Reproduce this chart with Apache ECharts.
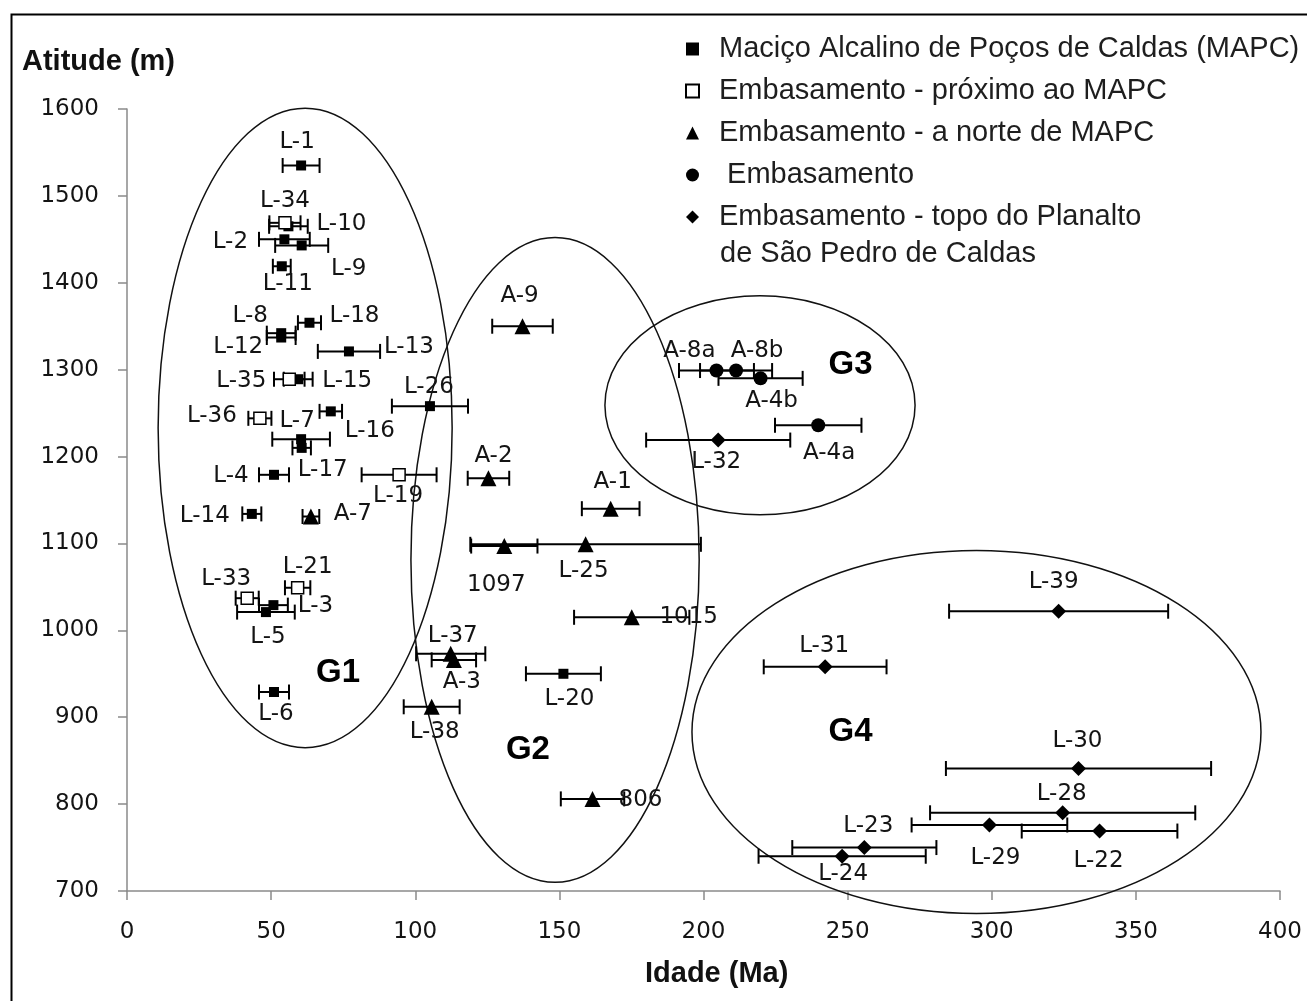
<!DOCTYPE html>
<html>
<head>
<meta charset="utf-8">
<script src="https://cdn.jsdelivr.net/npm/echarts@6/dist/echarts.min.js"></script>
<style>html,body{margin:0;padding:0;background:#fff}#chart{width:1307px;height:1001px}</style>
</head>
<body>
<div id="chart"></div>
<script>
// ---- DATA: [sample, age (Ma), altitude (m), age error (Ma)] ----
const mapcSamples = [
  ['L-1', 60.4, 1535, 6.4],
  ['L-10', 56.0, 1465, 6.7],
  ['L-2', 54.6, 1450, 8.8],
  ['L-9', 60.6, 1443, 9.2],
  ['L-11', 53.7, 1419, 3.1],
  ['L-18', 63.3, 1354, 4.0],
  ['L-8', 53.5, 1342, 5.0],
  ['L-12', 53.5, 1337, 5.0],
  ['L-13', 77.0, 1321, 10.8],
  ['L-15', 59.4, 1289, 5.0],
  ['L-26', 105.1, 1258, 13.2],
  ['L-16', 70.7, 1252, 3.9],
  ['L-7', 60.4, 1220, 10.0],
  ['L-17', 60.6, 1210, 3.2],
  ['L-4', 51.0, 1179, 5.2],
  ['L-14', 43.3, 1134, 3.3],
  ['L-3', 50.8, 1029, 5.0],
  ['L-5', 48.2, 1021, 10.0],
  ['L-6', 51.0, 929, 5.2],
  ['L-20', 151.4, 950, 13.0]
];
const nearMapcSamples = [
  ['L-34', 54.8, 1469, 5.4],
  ['L-35', 56.3, 1289, 5.3],
  ['L-36', 46.1, 1244, 4.0],
  ['L-19', 94.4, 1179, 13.0],
  ['L-21', 59.2, 1049, 4.4],
  ['L-33', 41.7, 1037, 4.0]
];
const northSamples = [
  ['A-9', 137.2, 1350, 10.5],
  ['A-2', 125.4, 1175, 7.2],
  ['A-1', 167.8, 1140, 10.0],
  ['A-7', 63.8, 1131, 2.9],
  ['1097', 130.9, 1097, 11.5],
  ['L-25', 159.1, 1099, 40.0],
  ['1015', 175.1, 1015, 20.0],
  ['L-37', 112.3, 973, 12.0],
  ['A-3', 113.4, 966, 7.7],
  ['L-38', 105.7, 912, 9.7],
  ['806', 161.5, 806, 11.0]
];
const basementSamples = [
  ['A-8a', 204.5, 1299, 13.0],
  ['A-8b', 211.3, 1299, 12.5],
  ['A-4b', 219.8, 1290, 14.6],
  ['A-4a', 239.8, 1236, 15.0]
];
const plateauSamples = [
  ['L-32', 205.1, 1219, 25.0],
  ['L-39', 323.2, 1022, 38.0],
  ['L-31', 242.2, 958, 21.3],
  ['L-30', 330.1, 841, 46.0],
  ['L-28', 324.6, 790, 46.0],
  ['L-29', 299.2, 776, 27.0],
  ['L-22', 337.4, 769, 27.0],
  ['L-23', 255.8, 750, 25.0],
  ['L-24', 248.1, 740, 29.0]
];
// groups: [name, centre age, centre altitude, half-width (Ma), half-height (m)]
const groupEllipses = [
  ['G1', 61.8, 1233, 51, 368],
  ['G2', 148.5, 1081, 50, 371],
  ['G3', 219.6, 1259, 53.8, 126],
  ['G4', 294.7, 883, 98.7, 209]
];
// group label anchors: [name, age, altitude]
const groupLabels = [
  ['G1', 73.2, 951],
  ['G2', 139.1, 862],
  ['G3', 251.0, 1305],
  ['G4', 251.0, 883]
];
const seriesNames = [
  'Maciço Alcalino de Poços de Caldas (MAPC)',
  'Embasamento - próximo ao MAPC',
  'Embasamento - a norte de MAPC',
  'Embasamento',
  'Embasamento - topo do Planalto de São Pedro de Caldas'
];
const xTicks = {min: 0, max: 400, step: 50};
const yTicks = {min: 700, max: 1600, step: 100};

// ---- label placement (pixel offsets from marker) ----
const labelOffset = {
  'L-1':[-4,-23],'L-34':[0,-22],'L-10':[53,-2],'L-2':[-54,3],'L-9':[47,24],'L-11':[6,18],
  'L-18':[45,-7],'L-8':[-31,-17],'L-12':[-43,10],'L-13':[60,-4],'L-35':[-48,2],'L-15':[49,2],
  'L-26':[-1,-19],'L-36':[-48,-2],'L-7':[-4,-18],'L-16':[39,20],'L-17':[21,22],'L-4':[-43,1],
  'L-19':[-1,21],'L-14':[-47,2],'A-7':[42,-2],'L-21':[10,-21],'L-33':[-21,-19],'L-3':[42,1],
  'L-5':[2,25],'L-6':[2,22],'L-38':[3,25],'L-37':[2,-18],'A-3':[8,22],'L-20':[6,25],
  '1015':[57,0],'806':[48,1],'A-9':[-3,-30],'A-2':[5,-22],'A-1':[2,-27],'1097':[-8,39],
  'L-25':[-2,27],'L-32':[-2,22],'A-8a':[-27,-20],'A-8b':[21,-20],'A-4b':[11,23],'A-4a':[11,28],
  'L-39':[-5,-29],'L-31':[-1,-21],'L-30':[-1,-27],'L-28':[-1,-19],'L-29':[6,33],'L-22':[-1,30],
  'L-23':[4,-22],'L-24':[1,18]
};

const FONT = 'DejaVu Sans';
const LEG_FONT = 'Liberation Sans';

function pts(arr) {
  return arr.map(r => ({
    name: r[0],
    value: [r[1], r[2]],
    label: {offset: labelOffset[r[0]] || [0, -20]}
  }));
}
function errs(arr) { return arr.map(r => [r[1], r[2], r[3]]); }

const allErr = [].concat(errs(mapcSamples), errs(nearMapcSamples), errs(northSamples),
                         errs(basementSamples), errs(plateauSamples));

const labelStyle = {
  show: true, position: 'inside', formatter: '{b}',
  fontFamily: FONT, fontSize: 23, color: '#141414'
};

function scatter(name, arr, symbol, size, itemStyle) {
  return {
    type: 'scatter', name: name, data: pts(arr), symbol: symbol, symbolSize: size,
    itemStyle: Object.assign({opacity: 1}, itemStyle), label: labelStyle, z: 5, silent: true
  };
}

const chart = echarts.init(document.getElementById('chart'), null, {renderer: 'canvas'});
chart.setOption({
  animation: false,
  backgroundColor: '#fff',
  grid: {left: 127, right: 27, top: 109, bottom: 110, containLabel: false},
  xAxis: {
    type: 'value', min: xTicks.min, max: xTicks.max, interval: xTicks.step,
    splitLine: {show: false},
    axisLine: {show: true, lineStyle: {color: '#8a8a8a', width: 1.5}},
    axisTick: {show: true, length: 9, lineStyle: {color: '#8a8a8a', width: 1.5}},
    axisLabel: {fontFamily: FONT, fontSize: 23, color: '#141414', margin: 30,
                formatter: v => String(v)}
  },
  yAxis: {
    type: 'value', min: yTicks.min, max: yTicks.max, interval: yTicks.step,
    splitLine: {show: false},
    axisLine: {show: true, lineStyle: {color: '#8a8a8a', width: 1.5}},
    axisTick: {show: true, length: 9, lineStyle: {color: '#8a8a8a', width: 1.5}},
    axisLabel: {fontFamily: FONT, fontSize: 23, color: '#141414', margin: 28,
                formatter: v => String(v)}
  },
  legend: {
    data: [
      {name: seriesNames[0], icon: 'rect'},
      {name: seriesNames[1], icon: 'rect'},
      {name: seriesNames[2], icon: 'triangle'},
      {name: seriesNames[3], icon: 'circle'},
      {name: seriesNames[4], icon: 'diamond'}
    ],
    orient: 'vertical', left: 680, top: 29,
    itemWidth: 13, itemHeight: 13, itemGap: 12,
    textStyle: {fontFamily: LEG_FONT, fontSize: 29, color: '#1e1e1e', lineHeight: 30,
                padding: [0, 0, 0, 15]},
    formatter: function (n) {
      if (n === seriesNames[4]) return 'Embasamento - topo do Planalto';
      if (n === 'Embasamento') return ' Embasamento';
      return n;
    },
    selectedMode: false
  },
  graphic: [
    {type: 'rect', left: 9, top: 12, shape: {width: 1400, height: 1100},
     style: {fill: 'none', stroke: '#000', lineWidth: 2}, silent: true},
    {type: 'text', left: 22, top: 47,
     style: {text: 'Atitude (m)', font: 'bold 29px "Liberation Sans"', fill: '#111'}},
    {type: 'text', left: 645, top: 959,
     style: {text: 'Idade (Ma)', font: 'bold 29px "Liberation Sans"', fill: '#111'}},
    {type: 'text', left: 720, top: 239,
     style: {text: 'de São Pedro de Caldas', font: '29px "Liberation Sans"', fill: '#1e1e1e'}}
  ],
  series: [
    {
      type: 'custom', name: 'groups', data: groupEllipses.map(r => [r[1], r[2], r[3], r[4]]),
      clip: false, silent: true, z: 1,
      renderItem: function (params, api) {
        const c = api.coord([api.value(0), api.value(1)]);
        const s = api.size([api.value(2), api.value(3)]);
        return {type: 'ellipse', shape: {cx: c[0], cy: c[1], rx: s[0], ry: s[1]},
                style: {fill: 'none', stroke: '#111', lineWidth: 1.5}};
      }
    },
    {
      type: 'scatter', name: 'groupLabels', silent: true, z: 2, symbolSize: 0,
      itemStyle: {opacity: 1},
      data: groupLabels.map(r => ({name: r[0], value: [r[1], r[2]]})),
      label: {show: true, position: 'inside', formatter: '{b}', fontFamily: 'Liberation Sans',
              fontWeight: 'bold', fontSize: 33, color: '#000'}
    },
    {
      type: 'custom', name: 'errors', data: allErr, silent: true, z: 3,
      encode: {x: 0, y: 1},
      renderItem: function (params, api) {
        const y = api.value(1), x = api.value(0), e = api.value(2);
        const lo = api.coord([x - e, y]);
        const hi = api.coord([x + e, y]);
        const h = 7.5;
        const st = {stroke: '#000', lineWidth: 2};
        return {type: 'group', children: [
          {type: 'line', shape: {x1: lo[0], y1: lo[1], x2: hi[0], y2: hi[1]}, style: st},
          {type: 'line', shape: {x1: lo[0], y1: lo[1] - h, x2: lo[0], y2: lo[1] + h}, style: st},
          {type: 'line', shape: {x1: hi[0], y1: hi[1] - h, x2: hi[0], y2: hi[1] + h}, style: st}
        ]};
      }
    },
    scatter(seriesNames[0], mapcSamples, 'rect', 10, {color: '#000'}),
    scatter(seriesNames[1], nearMapcSamples, 'rect', 12, {color: '#fff', borderColor: '#000', borderWidth: 1.5}),
    scatter(seriesNames[2], northSamples, 'triangle', 16, {color: '#000'}),
    scatter(seriesNames[3], basementSamples, 'circle', 14, {color: '#000'}),
    scatter(seriesNames[4], plateauSamples, 'diamond', 15, {color: '#000'})
  ]
});
</script>
</body>
</html>
